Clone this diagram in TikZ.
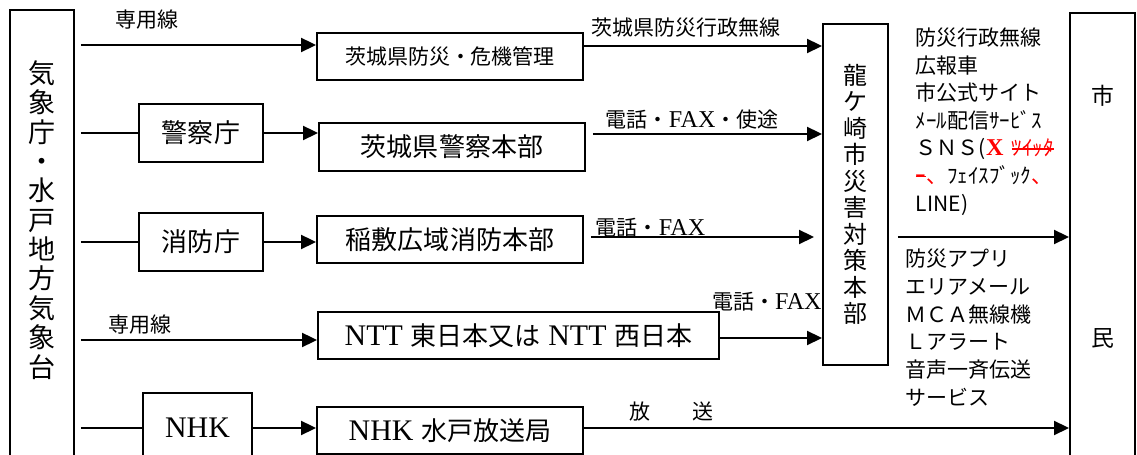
\documentclass[tikz,border=0pt]{standalone}
\usepackage{fontspec}
\setmainfont{Liberation Serif}[Scale=1.15]
\newfontfamily\jp{Noto Sans CJK JP}
\usetikzlibrary{arrows.meta}
\newcommand\strk[1]{\setbox0=\hbox{#1}\rlap{\rule[0.3em]{\wd0}{0.06em}}\box0}

\begin{document}
\begin{tikzpicture}[x=0.02cm,y=-0.02cm,line width=1.1pt,
    box/.style={draw, inner sep=0pt, font=\jp\fontsize{14.8}{18}\selectfont},
    arr/.style={-{Triangle[length=0.3cm,width=0.28cm]}},
    lbl/.style={inner sep=0pt, font=\jp\fontsize{11.95}{14}\selectfont},
    fromjma/.style={shorten <=0.12cm}]
  \useasboundingbox (0,0) rectangle (1137,455);
  \clip (0,0) rectangle (1137,455);

  \node[box, minimum width=1.28cm, minimum height=9.3cm] (jma) at (42,242.5) {};
  \node[inner sep=0pt, align=center, font=\jp\fontsize{15.4}{16.7}\selectfont] (jmatext) at (42,220) {気\\象\\庁\\・\\水\\戸\\地\\方\\気\\象\\台};
  \node[box, minimum width=5.32cm, minimum height=0.94cm, font=\jp\fontsize{11.95}{14}\selectfont] (ken) at (450,56.5) {茨城県防災・危機管理};
  \node[box, minimum width=2.48cm, minimum height=1.16cm] (police) at (201,133) {警察庁};
  \node[box, minimum width=5.32cm, minimum height=0.96cm] (kenpol) at (452,147) {茨城県警察本部};
  \node[box, minimum width=2.48cm, minimum height=1.16cm] (fire) at (201,242) {消防庁};
  \node[box, minimum width=5.32cm, minimum height=0.94cm] (inashiki) at (450,239.5) {稲敷広域消防本部};
  \node[box, minimum width=8.02cm, minimum height=0.94cm] (ntt) at (518.5,335.5) {\textrm{NTT}\hspace{0.3em}東日本又は\hspace{0.3em}\textrm{NTT}\hspace{0.3em}西日本};
  \node[box, minimum width=2.18cm, minimum height=1.4cm] (nhk) at (197.5,428) {\textrm{NHK}};
  \node[box, minimum width=5.32cm, minimum height=0.94cm] (nhkmito) at (450,430.5) {\textrm{NHK}\hspace{0.3em}水戸放送局};
  \node[box, minimum width=1.3cm, minimum height=6.82cm, align=center, font=\jp\fontsize{13.66}{15.1}\selectfont] (honbu) at (855.5,194.5) {龍\\ケ\\崎\\市\\災\\害\\対\\策\\本\\部};
  \node[box, minimum width=1.3cm, minimum height=9.24cm] (shimin) at (1102.5,244) {};
  \node[inner sep=0pt, font=\jp\fontsize{13}{15}\selectfont] (shi) at (1103,96) {市};
  \node[inner sep=0pt, font=\jp\fontsize{13}{15}\selectfont] (min) at (1103,338) {民};

  \draw[fromjma, arr] (jma.east |- 0,45) -- (ken.west |- 0,45) node[lbl, pos=.3, yshift=0.5cm] (l1) {専用線};
  \draw[arr] (ken.east |- 0,46) -- (honbu.west |- 0,46) node[lbl, pos=.43, yshift=0.36cm] (l2) {茨城県防災行政無線};
  \draw[fromjma] (jma.east |- police.west) -- (police.west);
  \draw[arr] (police.east) -- (kenpol.west |- police.east);
  \draw[shorten <=0.14cm, arr] (kenpol.east |- 0,134) -- (honbu.west |- 0,134) node[lbl, pos=.45, yshift=0.28cm] (l3) {電話・\textrm{FAX}・使途};
  \draw[fromjma] (jma.east |- fire.west) -- (fire.west);
  \draw[arr] (fire.east) -- (inashiki.west |- fire.east);
  \draw[shorten <=0.14cm, shorten >=0.16cm, arr] (inashiki.east |- 0,237) -- (honbu.west |- 0,237) node[lbl, pos=.28, yshift=0.18cm] (l4) {電話・\textrm{FAX}};
  \draw[fromjma, arr] (jma.east |- 0,340) -- (ntt.west |- 0,340) node[lbl, pos=.27, yshift=0.3cm] (l5) {専用線};
  \draw[arr] (ntt.east |- 0,338) -- (honbu.west |- 0,338) node[lbl, pos=.46, yshift=0.72cm] (l6) {電話・\textrm{FAX}};
  \draw[fromjma] (jma.east |- nhk.west) -- (nhk.west);
  \draw[arr] (nhk.east) -- (nhkmito.west |- nhk.east);
  \draw[arr] (nhkmito.east |- nhk.east) -- (shimin.west |- nhk.east) node[lbl, pos=.18, yshift=0.32cm] (l7) {放　　送};
  \draw[shorten <=0.18cm, arr] (honbu.east |- 0,237) -- (shimin.west |- 0,237);

  \node[lbl, align=left, anchor=north west, font=\jp\fontsize{11.95}{15.7}\selectfont] (media) at (915,27) {防災行政無線\\広報車\\市公式サイト\\ﾒｰﾙ配信ｻｰﾋﾞｽ\\ＳＮＳ({\color{red}\textrm{\bfseries X}\hspace{0.4em}\strk{ﾂｲｯﾀ}}\\{\color{red}\strk{ｰ}、}ﾌｪｲｽﾌﾞｯｸ{\color{red}、}\\LINE)};
  \node[lbl, align=left, anchor=north west, font=\jp\fontsize{11.95}{15.8}\selectfont] (media2) at (905,248) {防災アプリ\\エリアメール\\ＭＣＡ無線機\\Ｌアラート\\音声一斉伝送\\サービス};
\end{tikzpicture}
\end{document}
